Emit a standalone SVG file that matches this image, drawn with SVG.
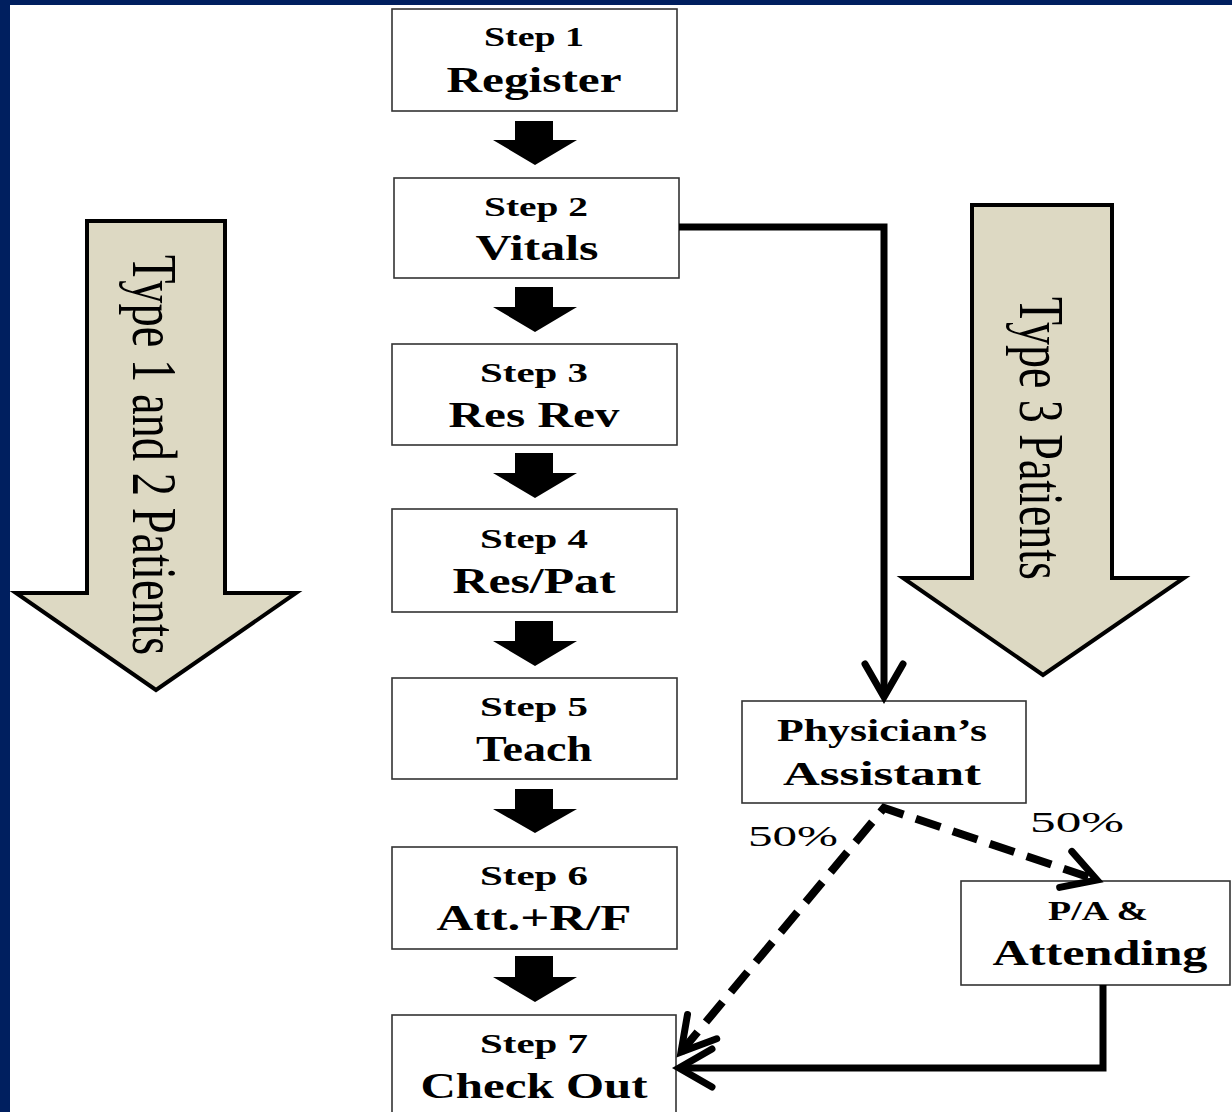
<svg xmlns="http://www.w3.org/2000/svg" width="1232" height="1112" viewBox="0 0 1232 1112">
  <style>
    .box { fill: #ffffff; stroke: #333333; stroke-width: 1.6; }
    .step { font-family: "Liberation Serif", "Times New Roman", serif; font-weight: bold; font-size: 27px; fill: #000; text-anchor: middle; }
    .name { font-family: "Liberation Serif", "Times New Roman", serif; font-weight: bold; font-size: 36px; fill: #000; text-anchor: middle; }
    .flow { fill: #000; stroke: none; }
    .band { fill: #DDD9C3; stroke: #000; stroke-width: 4; stroke-linejoin: miter; }
    .band-label { font-family: "Liberation Serif", "Times New Roman", serif; font-size: 46px; fill: #000; }
    .pct { font-family: "Liberation Serif", "Times New Roman", serif; font-size: 30px; fill: #000; text-anchor: middle; }
    .link { fill: none; stroke: #000; stroke-width: 7; stroke-linejoin: miter; }
    .dash { fill: none; stroke: #000; stroke-width: 8; stroke-dasharray: 26 13; }
    .chev { fill: none; stroke: #000; stroke-width: 7; stroke-linejoin: miter; stroke-linecap: round; }
  </style>
  <defs>
    <marker id="chevron" markerUnits="userSpaceOnUse" markerWidth="60" markerHeight="60" refX="0" refY="0" orient="auto-start-reverse" overflow="visible">
      <path class="chev" d="M-33,-19 L0,0 L-33,19"/>
    </marker>
  </defs>

  <!-- page frame -->
  <rect x="0" y="0" width="1232" height="1112" fill="#ffffff"/>
  <rect x="0" y="0" width="1232" height="5" fill="#001F5F"/>
  <rect x="0" y="0" width="10" height="1112" fill="#001F5F"/>

  <!-- patient-type bands -->
  <g id="band-type12">
    <path class="band" d="M87,221 H225 V593 H296 L156,690 L16,593 H87 Z"/>
    <text class="band-label" transform="translate(133,255) scale(1.4,1) rotate(90)" textLength="400" lengthAdjust="spacingAndGlyphs">Type 1 and 2 Patients</text>
  </g>
  <g id="band-type3">
    <path class="band" d="M972,205 H1112 V578 H1184 L1043,675 L903,578 H972 Z"/>
    <text class="band-label" transform="translate(1020,297) scale(1.4,1) rotate(90)" textLength="283" lengthAdjust="spacingAndGlyphs">Type 3 Patients</text>
  </g>

  <!-- step boxes -->
  <g id="step1">
    <rect class="box" x="392" y="9" width="285" height="102"/>
    <text class="step" x="534" y="46" textLength="100" lengthAdjust="spacingAndGlyphs">Step 1</text>
    <text class="name" x="534" y="92" textLength="175" lengthAdjust="spacingAndGlyphs">Register</text>
  </g>
  <g id="step2">
    <rect class="box" x="394" y="178" width="285" height="100"/>
    <text class="step" x="536" y="216" textLength="104" lengthAdjust="spacingAndGlyphs">Step 2</text>
    <text class="name" x="537" y="260" textLength="123" lengthAdjust="spacingAndGlyphs">Vitals</text>
  </g>
  <g id="step3">
    <rect class="box" x="392" y="344" width="285" height="101"/>
    <text class="step" x="534" y="382" textLength="108" lengthAdjust="spacingAndGlyphs">Step 3</text>
    <text class="name" x="534" y="427" textLength="171" lengthAdjust="spacingAndGlyphs">Res Rev</text>
  </g>
  <g id="step4">
    <rect class="box" x="392" y="509" width="285" height="103"/>
    <text class="step" x="534" y="548" textLength="108" lengthAdjust="spacingAndGlyphs">Step 4</text>
    <text class="name" x="534" y="593" textLength="163" lengthAdjust="spacingAndGlyphs">Res/Pat</text>
  </g>
  <g id="step5">
    <rect class="box" x="392" y="678" width="285" height="101"/>
    <text class="step" x="534" y="716" textLength="108" lengthAdjust="spacingAndGlyphs">Step 5</text>
    <text class="name" x="534" y="761" textLength="116" lengthAdjust="spacingAndGlyphs">Teach</text>
  </g>
  <g id="step6">
    <rect class="box" x="392" y="847" width="285" height="102"/>
    <text class="step" x="534" y="885" textLength="108" lengthAdjust="spacingAndGlyphs">Step 6</text>
    <text class="name" x="534" y="930" textLength="195" lengthAdjust="spacingAndGlyphs">Att.+R/F</text>
  </g>
  <g id="step7">
    <rect class="box" x="392" y="1015" width="284" height="102"/>
    <text class="step" x="534" y="1053" textLength="108" lengthAdjust="spacingAndGlyphs">Step 7</text>
    <text class="name" x="534" y="1098" textLength="227" lengthAdjust="spacingAndGlyphs">Check Out</text>
  </g>

  <!-- branch boxes -->
  <g id="physician-assistant">
    <rect class="box" x="742" y="701" width="284" height="102"/>
    <text class="step" x="882" y="741" style="font-size:31px" textLength="210" lengthAdjust="spacingAndGlyphs">Physician’s</text>
    <text class="step" x="882" y="785" style="font-size:34px" textLength="198" lengthAdjust="spacingAndGlyphs">Assistant</text>
  </g>
  <g id="pa-attending">
    <rect class="box" x="961" y="881" width="269" height="104"/>
    <text class="step" x="1098" y="920" style="font-size:27px" textLength="100" lengthAdjust="spacingAndGlyphs">P/A &amp;</text>
    <text class="name" x="1100" y="965" textLength="215" lengthAdjust="spacingAndGlyphs">Attending</text>
  </g>

  <!-- connectors -->
  <g id="connectors">
    <path class="flow" d="M515,121 H553 V140 H577 L535,165 L493,140 H515 Z"/>
    <path class="flow" d="M515,287 H553 V307 H577 L535,332 L493,307 H515 Z"/>
    <path class="flow" d="M515,453 H553 V473 H577 L535,498 L493,473 H515 Z"/>
    <path class="flow" d="M515,621 H553 V641 H577 L535,666 L493,641 H515 Z"/>
    <path class="flow" d="M515,789 H553 V809 H577 L535,833 L493,809 H515 Z"/>
    <path class="flow" d="M515,956 H553 V977 H577 L535,1002 L493,977 H515 Z"/>

    <path class="link" d="M679,227 H884 V697" marker-end="url(#chevron)"/>
    <path class="dash" d="M681,1052 L884,808 L1097,880" marker-start="url(#chevron)" marker-end="url(#chevron)"/>
    <path class="link" d="M1103,985 V1068 H679" marker-end="url(#chevron)"/>

    <text class="pct" x="793" y="846" textLength="90" lengthAdjust="spacingAndGlyphs">50%</text>
    <text class="pct" x="1077" y="832" textLength="94" lengthAdjust="spacingAndGlyphs">50%</text>
  </g>
</svg>
